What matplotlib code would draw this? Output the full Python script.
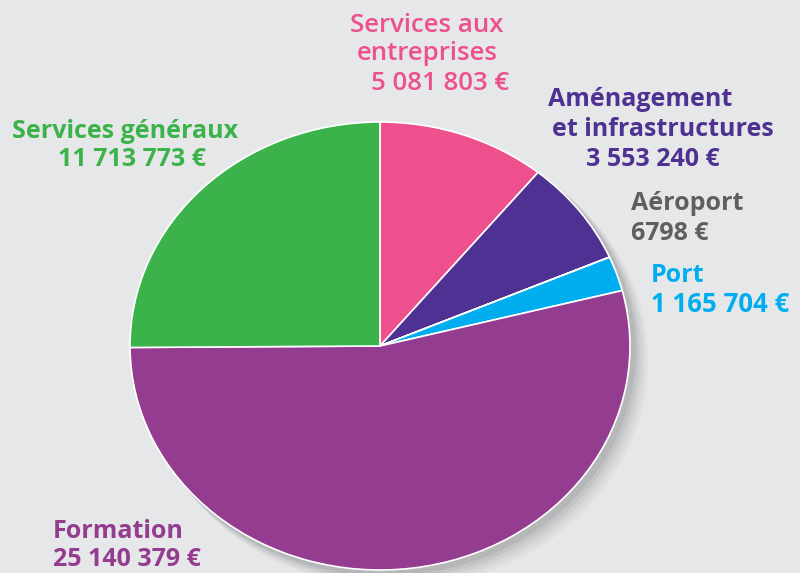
import matplotlib
matplotlib.use("Agg")
import matplotlib.pyplot as plt
from matplotlib.patches import Ellipse

# --- Data (clockwise from the top) ---
labels = ["Services aux entreprises", "Aménagement et infrastructures", "Aéroport",
          "Port", "Formation", "Services généraux"]
values = [5081803, 3553240, 6798, 1165704, 25140379, 11713773]
value_labels = ["5 081 803 €", "3 553 240 €", "6798 €", "1 165 704 €",
                "25 140 379 €", "11 713 773 €"]
colors = ["#EE4F8D", "#4E3192", "#5E5F61", "#00AEEF", "#943C8F", "#3BB34A"]

W, H = 800, 573
RX, RY = 250, 224          # pie looks slightly squashed
YS = RX / RY               # y data units per pixel
BG = "#E6E7E8"

fig = plt.figure(figsize=(W / 100, H / 100), dpi=100)
fig.patch.set_facecolor(BG)
ax = fig.add_axes([0, 0, 1, 1])
ax.set_facecolor(BG)


def py(y):
    # pixel row (from top) -> data y
    return (H - y) * YS


cx, cy = 380, py(346)

# soft shadow, bottom right
for i, a in enumerate([0.04, 0.05, 0.06, 0.08, 0.10]):
    off = 15 - i * 2.5
    ax.add_patch(Ellipse((cx + off, cy - off * YS), 2 * RX + 6 - i, 2 * RX + 6 - i,
                         facecolor="#4a4b4f", edgecolor="none", alpha=a, zorder=1))

ax.pie(values, colors=colors, startangle=90, counterclock=False,
       center=(cx, cy), radius=RX, frame=True,
       wedgeprops=dict(edgecolor="white", linewidth=1.2, zorder=2))
ax.set_xlim(0, W)
ax.set_ylim(0, H * YS)
ax.set_aspect("auto")
ax.axis("off")

font = "Open Sans"


def txt(x, y, s, c, ha="left", size=18, weight="bold"):
    ax.text(x, py(y + 3), s, color=c, ha=ha, va="center", fontsize=size,
            fontweight=weight, family=font, zorder=5)


# Services aux entreprises (lighter face)
txt(427, 22, "Services aux", colors[0], ha="center", size=18.5, weight="semibold")
txt(427, 51, "entreprises", colors[0], ha="center", size=18.5, weight="semibold")
txt(440, 80, value_labels[0], colors[0], ha="center", size=18.5, weight="semibold")

txt(640, 97, "Aménagement", colors[1], ha="center")
txt(663, 127, "et infrastructures", colors[1], ha="center")
txt(653, 156, value_labels[1], colors[1], ha="center")

txt(631, 201, "Aéroport", colors[2])
txt(631, 231, value_labels[2], colors[2])

txt(651, 272, "Port", colors[3])
txt(651, 302, value_labels[3], colors[3], size=18.5)

txt(125, 128, "Services généraux", colors[5], ha="center")
txt(132, 157, value_labels[5], colors[5], ha="center")

txt(53, 528, "Formation", colors[4])
txt(53, 557, value_labels[4], colors[4])

fig.savefig("out.png", dpi=100, facecolor=BG)
